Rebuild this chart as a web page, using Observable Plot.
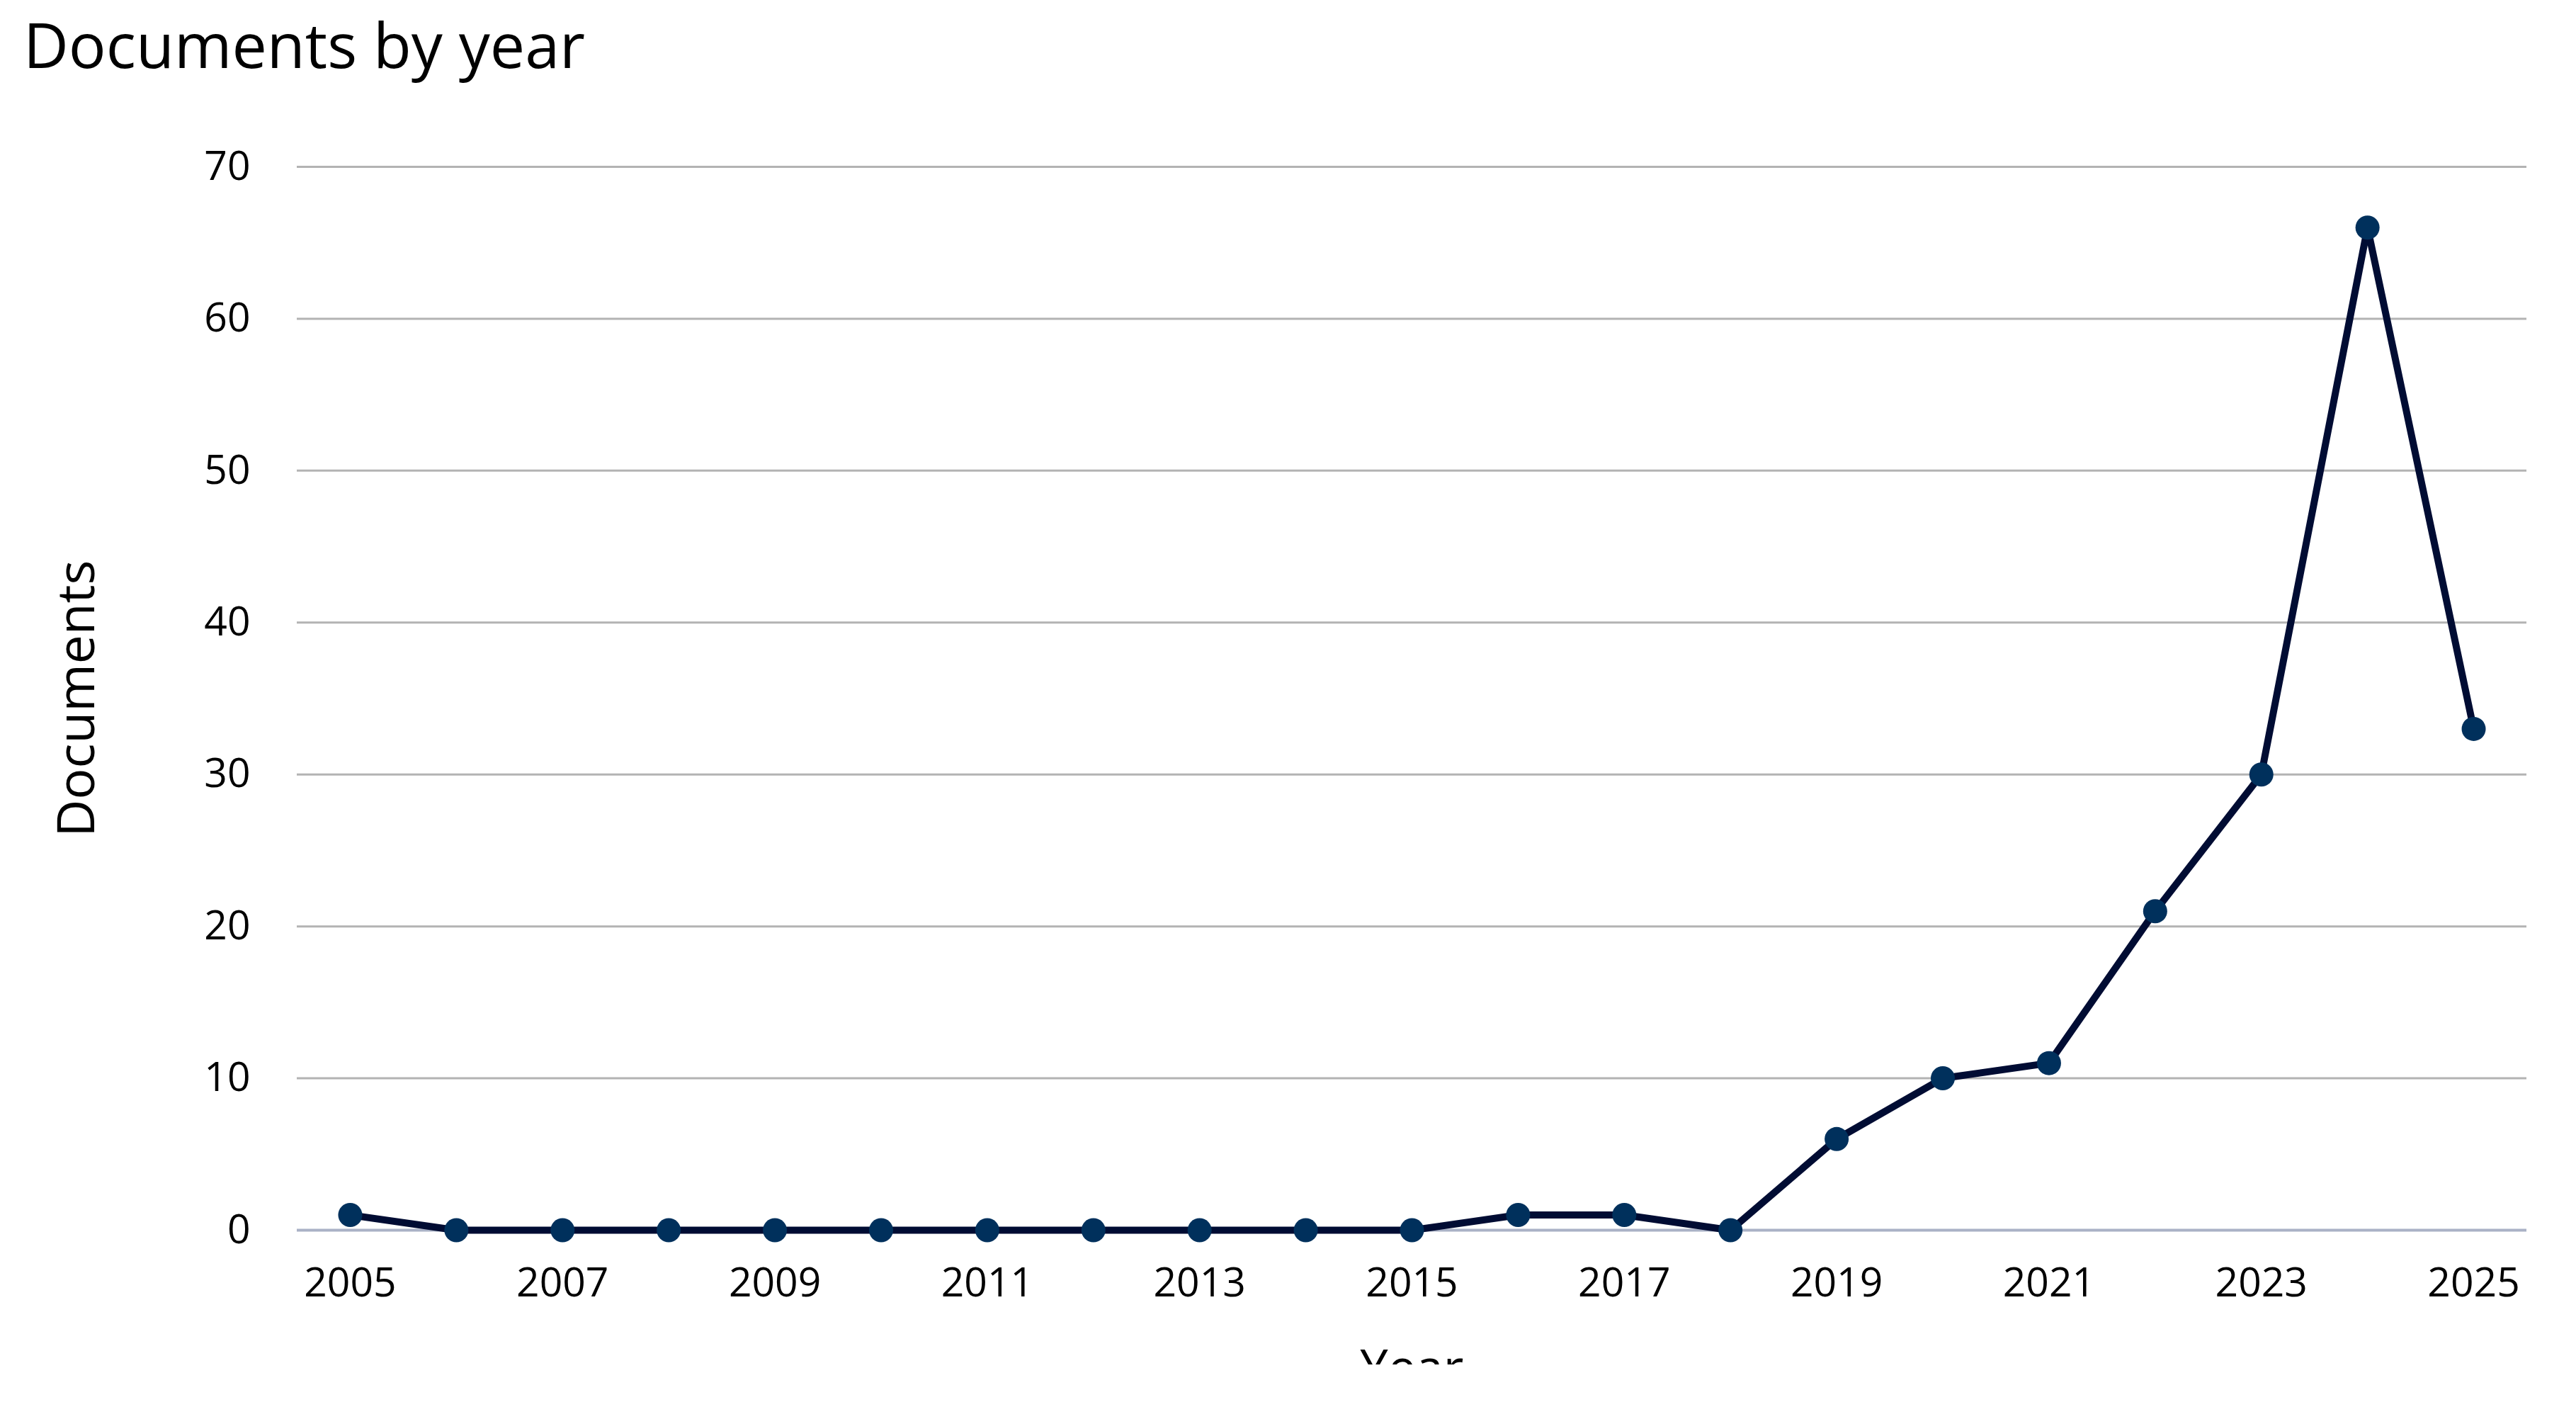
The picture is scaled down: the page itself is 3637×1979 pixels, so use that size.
<!DOCTYPE html>
<html>
<head>
<meta charset="utf-8">
<script src="https://cdn.jsdelivr.net/npm/d3@7"></script>
<script src="https://cdn.jsdelivr.net/npm/@observablehq/plot@0.6"></script>
<style>
  html, body { margin: 0; padding: 0; background: #fff; }
  body { width: 3637px; height: 1979px; overflow: hidden; font-family: "Open Sans", sans-serif; }
  #title { position: relative; height: 120px; }
  #title span { position: absolute; left: 33px; top: 18px; font-size: 88px; line-height: 1; color: #000; white-space: nowrap; }
  #chart svg { overflow: hidden; display: block; }
</style>
</head>
<body>
<div id="title"><span>Documents by year</span></div>
<div id="chart"></div>
<script>
const years = [2005, 2006, 2007, 2008, 2009, 2010, 2011, 2012, 2013, 2014, 2015, 2016, 2017, 2018, 2019, 2020, 2021, 2022, 2023, 2024, 2025];
const documents = [1, 0, 0, 0, 0, 0, 0, 0, 0, 0, 0, 1, 1, 0, 6, 10, 11, 21, 30, 66, 33];
const xTicks = [2005, 2007, 2009, 2011, 2013, 2015, 2017, 2019, 2021, 2023, 2025];
const yTicks = [0, 10, 20, 30, 40, 50, 60, 70];
const xLabel = "Year";
const yLabel = "Documents";

const data = years.map((year, i) => ({year, documents: documents[i]}));

const chart = Plot.plot({
  width: 3637,
  height: 1806,
  marginTop: 115,
  marginBottom: 190,
  marginLeft: 419,
  marginRight: 70,
  style: {fontFamily: "'Open Sans', sans-serif", color: "#000", background: "#fff", overflow: "hidden"},
  x: {domain: [2004.5, 2025.5], ticks: xTicks, tickFormat: d => String(d)},
  y: {domain: [0, 70], ticks: yTicks},
  marks: [
    Plot.gridY(yTicks.filter(d => d > 0), {stroke: "#b3b3b3", strokeOpacity: 1, strokeWidth: 3}),
    Plot.ruleY([0], {stroke: "#aab2c6", strokeWidth: 4}),
    Plot.axisX({ticks: xTicks, tickSize: 0, tickPadding: 53, fontSize: 57, label: null, tickFormat: d => String(d)}),
    Plot.axisY({ticks: yTicks, tickSize: 0, tickPadding: 66, fontSize: 57, label: null}),
    Plot.text([xLabel], {frameAnchor: "bottom", dy: 169, lineAnchor: "top", fontSize: 70, fill: "#000"}),
    Plot.text([yLabel], {frameAnchor: "left", textAnchor: "middle", rotate: -90, dx: -310, fontSize: 73, fill: "#000"}),
    Plot.line(data, {x: "year", y: "documents", stroke: "#000c33", strokeWidth: 10, strokeLinejoin: "round"}),
    Plot.dot(data, {x: "year", y: "documents", r: 17, fill: "#00305c", stroke: "none"})
  ]
});
document.getElementById("chart").appendChild(chart);
</script>
</body>
</html>
